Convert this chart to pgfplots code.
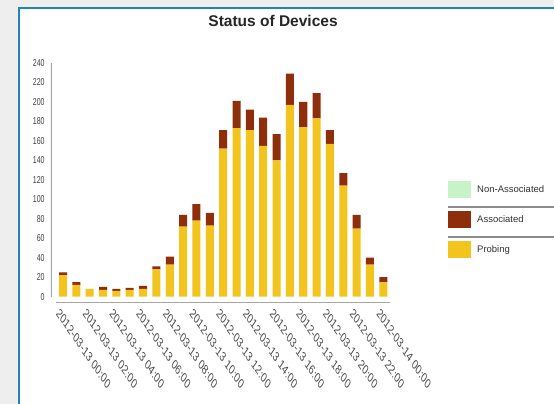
\documentclass[border=0pt]{standalone}
\usepackage{fontspec}
\setmainfont{Liberation Sans}
\usepackage{pgfplots}
\pgfplotsset{compat=1.18}
\usepackage{pgfplotstable}

\definecolor{probing}{HTML}{F4C41E}
\definecolor{assoc}{HTML}{8E2E0B}
\definecolor{nonassoc}{HTML}{C8F2C8}
\definecolor{frameblue}{HTML}{2183B8}
\definecolor{pagegray}{HTML}{EEEEEE}

% devices per two-hour slot: probing + associated (non-associated all zero)
\pgfplotstableread{
x probing assoc
0  22  3
1  12  3
2   8  0
3   7  3
4   6  2
5   7  2
6   8  3
7  28  3
8  33  8
9  72 12
10 78 17
11 73 13
12 152 19
13 173 28
14 171 21
15 155 29
16 140 27
17 197 32
18 174 26
19 183 26
20 157 14
21 114 13
22 70 14
23 33  7
24 15  5
}\devices

\begin{document}
\begin{tikzpicture}[x=1pt,y=1pt]
\useasboundingbox (0,0) rectangle (554,404);
\fill[pagegray] (0,0) rectangle (554,404);
\fill[white] (19,0) rectangle (554,396);
\draw[frameblue, line width=2pt] (19,-2) -- (19,396) -- (556,396);

\begin{axis}[
  at={(51pt,101.3pt)}, anchor=south west,
  scale only axis, width=339pt, height=239.7pt,
  ybar stacked, bar width=8pt,
  xmin=-0.9, xmax=24.5, ymin=-6.2, ymax=240,
  axis line style={draw=none},
  major tick length=0pt,
  /pgf/number format/assume math mode=true,
  ytick={0,20,...,240},
  yticklabel style={font=\fontsize{10}{10}\selectfont, xscale=0.7, text=black!75, inner sep=1pt, xshift=-8pt},
  xtick={0,2,...,24},
  xticklabels={2012-03-13 00:00,2012-03-13 02:00,2012-03-13 04:00,2012-03-13 06:00,
    2012-03-13 08:00,2012-03-13 10:00,2012-03-13 12:00,2012-03-13 14:00,
    2012-03-13 16:00,2012-03-13 18:00,2012-03-13 20:00,2012-03-13 22:00,2012-03-14 00:00},
  xticklabel style={font=\fontsize{13.5}{13.5}\selectfont, text=black!70, anchor=west, xscale=0.68, rotate=-45, yshift=-11pt, xshift=-3pt},
  title={Status of Devices},
  title style={at={(0.655,1.15)}, anchor=center, font=\fontsize{15.5}{16}\selectfont\bfseries, text=black!85},
  legend image code/.code={\fill[#1] (0pt,-8pt) rectangle (23pt,9pt);},
  legend style={at={(1.171,0.508)}, anchor=north west, draw=none, fill=none,
    font=\fontsize{9.5}{9.5}\selectfont, row sep=13pt, inner sep=0pt,
    nodes={inner sep=1pt, text=black!80}},
  legend cell align=left,
  /tikz/every odd column/.style={column sep=5pt},
]
\addplot[fill=probing, draw=none, forget plot] table[x=x, y=probing] {\devices};
\addplot[fill=assoc, draw=none, forget plot] table[x=x, y=assoc] {\devices};
\addlegendimage{fill=nonassoc, draw=none}
\addlegendentry{Non-Associated}
\addlegendimage{fill=assoc, draw=none}
\addlegendentry{Associated}
\addlegendimage{fill=probing, draw=none}
\addlegendentry{Probing}
\draw[black!35, line width=1.2pt] (rel axis cs:0,0.025) -- (rel axis cs:0,1);
\draw[black!35, line width=1.6pt] (axis cs:-0.525,-6.2) -- (axis cs:24.5,-6.2);
\end{axis}

\draw[black!45, line width=1.2pt] (448,197) -- (556,197);
\draw[black!45, line width=1.2pt] (448,167) -- (556,167);
\end{tikzpicture}
\end{document}
